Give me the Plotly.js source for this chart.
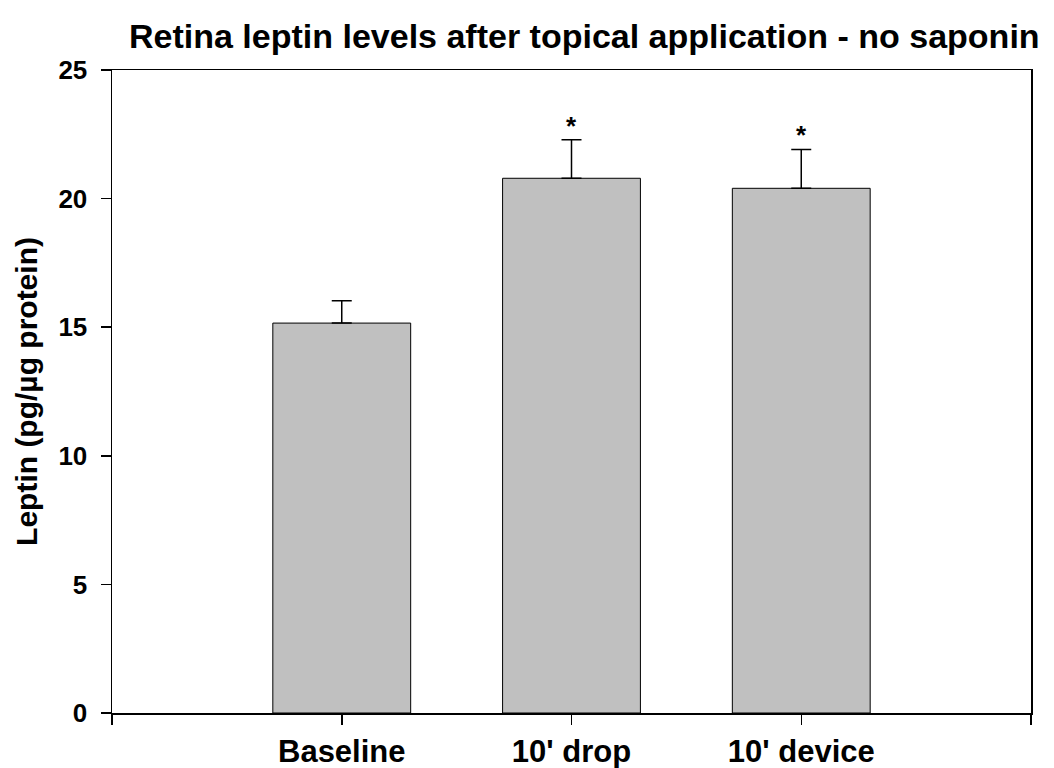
<!DOCTYPE html>
<html>
<head>
<meta charset="utf-8">
<script src="https://cdn.plot.ly/plotly-3.0.1.min.js"></script>
<style>html,body{margin:0;padding:0;background:#fff;}#chart{width:1054px;height:768px;}</style>
</head>
<body>
<div id="chart"></div>
<script>
const categories = ["Baseline", "10' drop", "10' device"];
const leptin = [15.16, 20.79, 20.40];
const sem = [0.87, 1.50, 1.51];
const significant = ["", "*", "*"];
const yTicks = [0, 5, 10, 15, 20, 25];
const chartTitle = "Retina leptin levels after topical application - no saponin";

const xIdx = categories.map((c, i) => i);
const font = "Liberation Sans, Arial, sans-serif";

const W = 1054, H = 768;
const M = {l: 112, r: 23, t: 70, b: 55};
const plotW = W - M.l - M.r, plotH = H - M.t - M.b;

const trace = {
  type: 'bar',
  x: xIdx,
  y: leptin,
  width: 0.6,
  marker: {color: '#c0c0c0', line: {color: '#000', width: 1}},
  error_y: {type: 'data', array: sem, symmetric: false, arrayminus: sem.map(() => 0), color: '#000', thickness: 1.5, width: 10},
  hoverinfo: 'none'
};

const annotations = xIdx.filter(i => significant[i]).map(i => ({
  x: i, y: leptin[i] + sem[i], xref: 'x', yref: 'y',
  text: '<b>' + significant[i] + '</b>', showarrow: false, yanchor: 'bottom', yshift: -3,
  font: {family: font, size: 26, color: '#000'}
}));
annotations.push({
  x: (584 - M.l) / plotW, y: (H - M.b - 36) / plotH, xref: 'paper', yref: 'paper',
  yanchor: 'middle', xanchor: 'center',
  text: '<b>' + chartTitle + '</b>', showarrow: false,
  font: {family: font, size: 34, color: '#000'}
});

const layout = {
  width: W, height: H,
  margin: M,
  paper_bgcolor: '#fff', plot_bgcolor: '#fff',
  showlegend: false,
  xaxis: {
    range: [-1, 3], tickmode: 'array',
    tickvals: [-1].concat(xIdx, [3]),
    ticktext: [''].concat(categories.map(c => '<b>' + c + '</b>'), ['']),
    ticks: 'outside', ticklen: 10, tickwidth: 1.5, tickcolor: '#000',
    showline: true, linecolor: '#000', linewidth: 1.5, mirror: true,
    showgrid: false, zeroline: false,
    tickfont: {family: font, size: 31, color: '#000'}
  },
  yaxis: {
    range: [0, 25], tickmode: 'array', tickvals: yTicks,
    ticktext: yTicks.map(v => '<b>' + v + '</b>'),
    ticks: 'outside', ticklen: 10, tickwidth: 1.5, tickcolor: '#000',
    ticklabelstandoff: 8,
    showline: true, linecolor: '#000', linewidth: 1.5, mirror: true,
    showgrid: false, zeroline: false,
    tickfont: {family: font, size: 26, color: '#000'},
    title: {text: '<b>Leptin (pg/µg protein)</b>', font: {family: font, size: 30, color: '#000'}, standoff: 12}
  },
  annotations: annotations
};

Plotly.newPlot('chart', [trace], layout, {displayModeBar: false, staticPlot: true});
</script>
</body>
</html>
